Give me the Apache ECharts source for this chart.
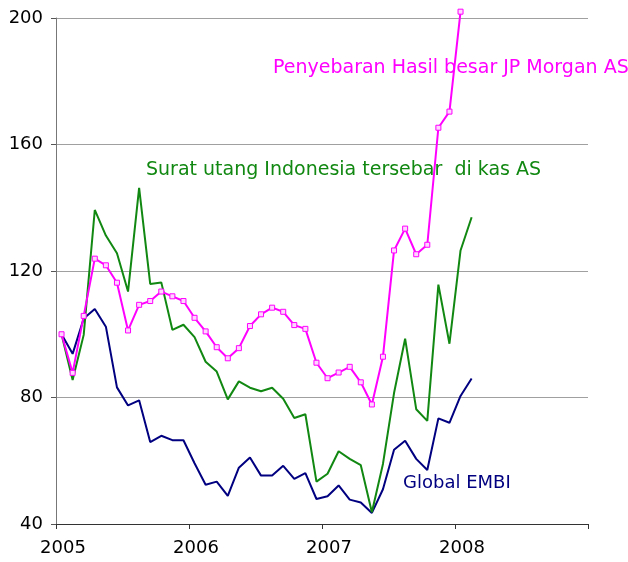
<!DOCTYPE html>
<html>
<head>
<meta charset="utf-8">
<script src="https://cdn.jsdelivr.net/npm/echarts@6/dist/echarts.min.js"></script>
<style>
  html, body { margin: 0; padding: 0; background: #fff; }
  #main { width: 628px; height: 562px; }
</style>
</head>
<body>
<div id="main"></div>
<script>
// monthly data, first point Jan 2005
var startYear = 2005;
var yearTicks = ['2005', '2006', '2007', '2008', ''];

// Penyebaran Hasil besar JP Morgan AS
var jpMorgan = [100, 87.8, 105.8, 123.9, 121.8, 116.3, 101.2, 109.3, 110.5, 113.5, 112, 110.5,
  105.2, 100.9, 95.9, 92.4, 95.6, 102.6, 106.3, 108.4, 107.1, 102.9, 101.7, 91,
  86.1, 87.9, 89.7, 84.8, 77.8, 92.9, 126.5, 133.4, 125.3, 128.3, 165.3, 170.4,
  202];

// Surat utang Indonesia tersebar di kas AS
var indonesia = [100, 85.5, 99.8, 139.3, 131.2, 125.6, 113.5, 146.3, 115.9, 116.4, 101.4, 103,
  99.1, 91.3, 88.2, 79.4, 85.1, 83.1, 82, 83.1, 79.6, 73.5, 74.7, 53.4,
  55.9, 63, 60.6, 58.6, 43.7, 59, 81.4, 98.6, 76.3, 72.6, 115.7, 97,
  126.5, 137];

// Global EMBI
var embi = [100, 93.8, 105, 108, 102.4, 83.2, 77.5, 79.1, 65.9, 67.9, 66.5, 66.5,
  59.2, 52.4, 53.4, 48.9, 57.8, 61, 55.3, 55.3, 58.4, 54.3, 56.1, 47.9,
  48.8, 52.2, 47.7, 46.8, 43.5, 51, 63.5, 66.3, 60.6, 57.1, 73.4, 72,
  80.5, 86];

function toPoints(arr) {
  return arr.map(function (v, i) { return [startYear + (i + 0.5) / 12, v]; });
}

var font = 'DejaVu Sans, Verdana, sans-serif';

var option = {
  backgroundColor: '#fff',
  animation: false,
  grid: { left: 56, right: 40, top: 18, bottom: 38 },
  xAxis: {
    type: 'value',
    min: 2005,
    max: 2009,
    interval: 1,
    axisLine: { lineStyle: { color: '#333', width: 1 } },
    axisTick: { show: true, length: 5, lineStyle: { color: '#333' } },
    splitLine: { show: false },
    axisLabel: {
      color: '#000',
      fontFamily: font,
      fontSize: 18,
      margin: 15,
      padding: [0, 0, 0, 14],
      formatter: function (v) { return yearTicks[Math.round(v - 2005)]; }
    }
  },
  yAxis: {
    type: 'value',
    min: 40,
    max: 200,
    interval: 40,
    axisLine: { show: true, lineStyle: { color: '#777', width: 1 } },
    axisTick: { show: true, length: 5, lineStyle: { color: '#555' } },
    splitLine: { show: true, lineStyle: { color: '#a0a0a0', width: 1 } },
    axisLabel: { color: '#000', fontFamily: font, fontSize: 18, margin: 13 }
  },
  series: [
    {
      name: 'Global EMBI',
      type: 'line',
      data: toPoints(embi),
      symbol: 'none',
      lineStyle: { color: '#000080', width: 2 },
      z: 3
    },
    {
      name: 'Surat utang Indonesia tersebar di kas AS',
      type: 'line',
      data: toPoints(indonesia),
      symbol: 'none',
      lineStyle: { color: '#118811', width: 2 },
      z: 4
    },
    {
      name: 'Penyebaran Hasil besar JP Morgan AS',
      type: 'line',
      data: toPoints(jpMorgan),
      clip: false,
      symbol: 'rect',
      symbolSize: 5,
      showAllSymbol: true,
      itemStyle: { color: '#ffd6ff', borderColor: '#ff00ff', borderWidth: 1 },
      lineStyle: { color: '#ff00ff', width: 2 },
      z: 5
    }
  ],
  graphic: [
    {
      type: 'text', left: 273, top: 59, z: 10,
      style: { text: 'Penyebaran Hasil besar JP Morgan AS', fill: '#ff00ff', font: '19px ' + font }
    },
    {
      type: 'text', left: 146, top: 161, z: 10,
      style: { text: 'Surat utang Indonesia tersebar  di kas AS', fill: '#118811', font: '19px ' + font }
    },
    {
      type: 'text', left: 403, top: 474, z: 10,
      style: { text: 'Global EMBI', fill: '#000080', font: '18px ' + font }
    }
  ]
};

var chart = echarts.init(document.getElementById('main'));
chart.setOption(option);
</script>
</body>
</html>
